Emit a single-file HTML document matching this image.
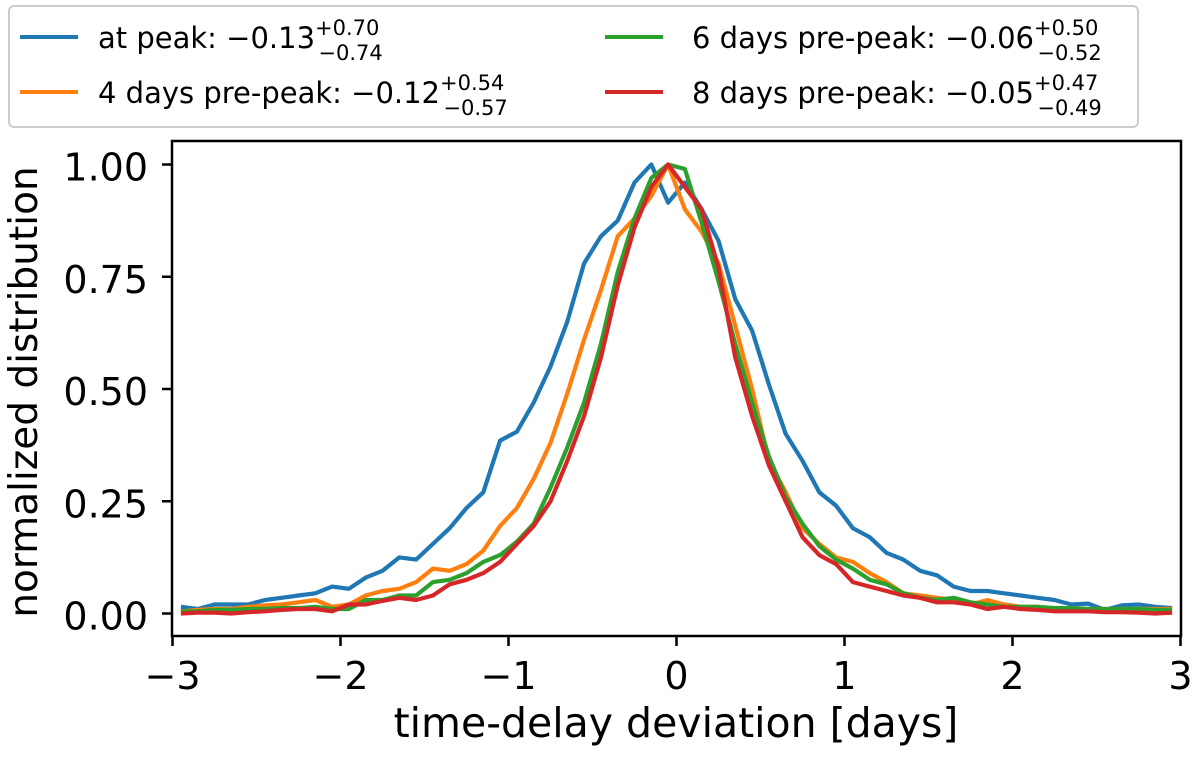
<!DOCTYPE html>
<html><head><meta charset="utf-8"><style>
body{margin:0;background:#fff;}
svg{font-family:"DejaVu Sans","Liberation Sans",sans-serif;}
</style></head><body>
<svg id="chart" width="1200" height="755" xmlns="http://www.w3.org/2000/svg">
<g>
<rect x="9" y="6" width="1129" height="121" rx="5" fill="#fff" stroke="#ccc" stroke-width="2"/>
<g><line x1="20" y1="37" x2="78" y2="37" stroke="#1f77b4" stroke-width="4"/><text x="98" y="48" font-size="29">at peak: −0.13<tspan font-size="21" dy="-13">+0.70</tspan><tspan font-size="21" dx="-61" dy="25">−0.74</tspan></text></g>
<g><line x1="20" y1="92" x2="78" y2="92" stroke="#ff7f0e" stroke-width="4"/><text x="98" y="103" font-size="29">4 days pre-peak: −0.12<tspan font-size="21" dy="-13">+0.54</tspan><tspan font-size="21" dx="-61" dy="25">−0.57</tspan></text></g>
<g><line x1="605" y1="37" x2="663" y2="37" stroke="#2ca02c" stroke-width="4"/><text x="692" y="48" font-size="29">6 days pre-peak: −0.06<tspan font-size="21" dy="-13">+0.50</tspan><tspan font-size="21" dx="-61" dy="25">−0.52</tspan></text></g>
<g><line x1="605" y1="92" x2="663" y2="92" stroke="#d62728" stroke-width="4"/><text x="692" y="103" font-size="29">8 days pre-peak: −0.05<tspan font-size="21" dy="-13">+0.47</tspan><tspan font-size="21" dx="-61" dy="25">−0.49</tspan></text></g>
</g>
<g id="plot"></g>
<text x="676" y="737" font-size="41" text-anchor="middle">time-delay deviation [days]</text>
<text transform="translate(37,392) rotate(-90)" font-size="39" text-anchor="middle">normalized distribution</text>
</svg>
<script>
const xs = [-2.95,-2.85,-2.75,-2.65,-2.55,-2.45,-2.35,-2.25,-2.15,-2.05,-1.95,-1.85,-1.75,-1.65,-1.55,-1.45,-1.35,-1.25,-1.15,-1.05,-0.95,-0.85,-0.75,-0.65,-0.55,-0.45,-0.35,-0.25,-0.15,-0.05,0.05,0.15,0.25,0.35,0.45,0.55,0.65,0.75,0.85,0.95,1.05,1.15,1.25,1.35,1.45,1.55,1.65,1.75,1.85,1.95,2.05,2.15,2.25,2.35,2.45,2.55,2.65,2.75,2.85,2.95];
const atPeak = [0.015,0.01,0.02,0.02,0.02,0.03,0.035,0.04,0.045,0.06,0.055,0.08,0.095,0.125,0.12,0.155,0.19,0.235,0.27,0.385,0.405,0.47,0.55,0.65,0.78,0.84,0.875,0.96,1.0,0.915,0.96,0.9,0.83,0.70,0.63,0.51,0.40,0.34,0.27,0.24,0.19,0.17,0.135,0.12,0.095,0.085,0.06,0.05,0.05,0.045,0.04,0.035,0.03,0.02,0.022,0.008,0.018,0.02,0.015,0.012];
const pre4 = [0.005,0.008,0.01,0.01,0.015,0.018,0.02,0.025,0.03,0.015,0.02,0.04,0.05,0.055,0.07,0.1,0.095,0.11,0.14,0.195,0.235,0.3,0.38,0.49,0.61,0.72,0.84,0.88,0.93,1.0,0.9,0.85,0.78,0.64,0.50,0.34,0.27,0.19,0.155,0.125,0.115,0.09,0.07,0.045,0.04,0.035,0.03,0.02,0.03,0.02,0.015,0.015,0.01,0.01,0.01,0.01,0.01,0.01,0.01,0.01];
const pre6 = [0.005,0.005,0.008,0.008,0.01,0.01,0.012,0.012,0.015,0.01,0.01,0.03,0.03,0.04,0.04,0.07,0.075,0.09,0.115,0.13,0.16,0.2,0.28,0.37,0.47,0.6,0.76,0.88,0.97,1.0,0.99,0.87,0.74,0.6,0.47,0.35,0.26,0.2,0.15,0.12,0.1,0.075,0.065,0.045,0.035,0.03,0.035,0.025,0.02,0.015,0.015,0.015,0.012,0.012,0.01,0.01,0.01,0.01,0.008,0.008];
const pre8 = [0.0,0.002,0.002,0.0,0.003,0.005,0.008,0.01,0.01,0.005,0.02,0.02,0.028,0.035,0.03,0.04,0.065,0.075,0.09,0.115,0.155,0.195,0.25,0.34,0.44,0.57,0.73,0.86,0.95,1.0,0.95,0.9,0.77,0.57,0.44,0.33,0.25,0.17,0.13,0.11,0.07,0.06,0.05,0.04,0.035,0.025,0.025,0.02,0.01,0.015,0.01,0.008,0.005,0.005,0.005,0.003,0.003,0.002,0.0,0.002];
const xTicks = [-3,-2,-1,0,1,2,3];
const yTicks = [0,0.25,0.5,0.75,1.0];
const yTickLabels = ["0.00","0.25","0.50","0.75","1.00"];

const NS="http://www.w3.org/2000/svg";
const L=172,R=1181,T=141,B=636;
function xp(v){return 676.5+v*168;}
function yp(v){return 613.5-v*449;}
const g=document.getElementById('plot');
function mk(t,a){const e=document.createElementNS(NS,t);for(const k in a)e.setAttribute(k,a[k]);g.appendChild(e);return e;}
const series=[[atPeak,'#1f77b4','line-at-peak'],[pre4,'#ff7f0e','line-4-days-pre-peak'],[pre6,'#2ca02c','line-6-days-pre-peak'],[pre8,'#d62728','line-8-days-pre-peak']];
series.forEach(s=>{
  const p=mk('polyline',{points:xs.map((x,i)=>xp(x).toFixed(1)+','+yp(s[0][i]).toFixed(1)).join(' '),fill:'none',stroke:s[1],'stroke-width':4.2,'stroke-linejoin':'round'});
  
  
});
const fr=mk('rect',{x:L,y:T,width:R-L,height:B-T,fill:'none',stroke:'#000','stroke-width':2.5});


xTicks.forEach(t=>{
  const ln=mk('line',{x1:xp(t),x2:xp(t),y1:B,y2:B+10,stroke:'#000','stroke-width':2.5});
  
  
  const tx=mk('text',{x:xp(t),y:689,'font-size':38,'text-anchor':'middle'});
  tx.textContent=(t<0?'−':'')+Math.abs(t);
  
  
});
yTicks.forEach((t,i)=>{
  const ln=mk('line',{x1:L-10,x2:L,y1:yp(t),y2:yp(t),stroke:'#000','stroke-width':2.5});
  
  
  const tx=mk('text',{x:L-24,y:yp(t)+16,'font-size':38,'text-anchor':'end'});
  tx.textContent=yTickLabels[i];
  
  
});
</script>
</body></html>
